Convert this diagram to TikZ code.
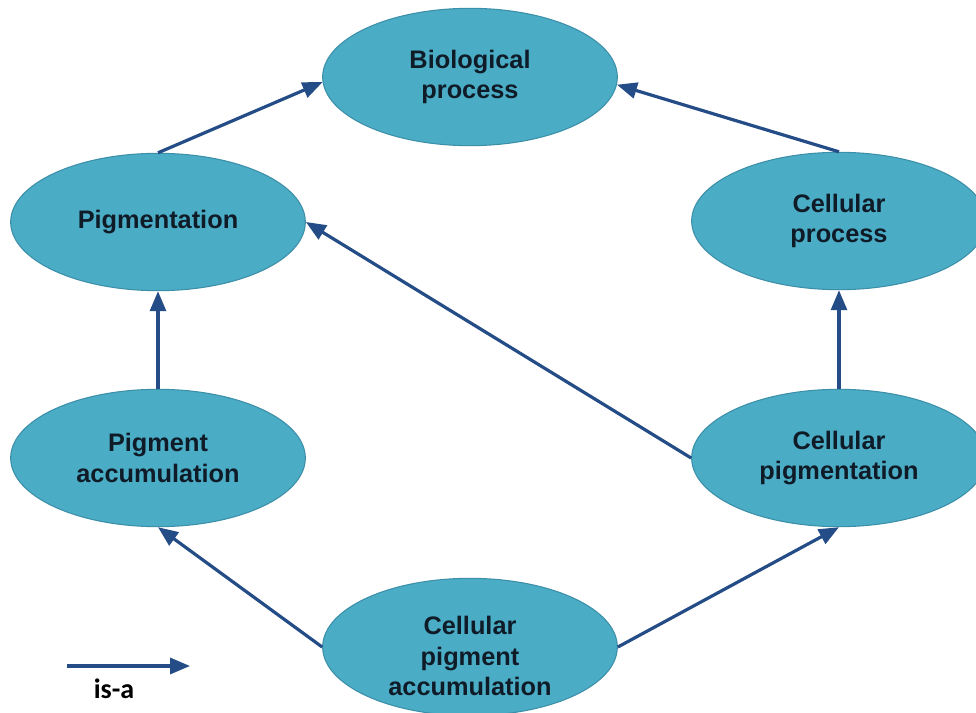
\documentclass[tikz,border=0pt]{standalone}
\usepackage{fontspec}
\setmainfont{Liberation Sans}
\newfontfamily\legendfont{Carlito}
\usetikzlibrary{shapes.geometric,arrows.meta}
\definecolor{termfill}{HTML}{4BACC6}
\definecolor{termedge}{HTML}{3C8FA8}
\definecolor{termtext}{HTML}{0F1C28}
\definecolor{isacol}{HTML}{244C86}
\tikzset{
  termfont/.style={align=center, text=termtext,
    font=\fontsize{19}{23}\selectfont\bfseries},
  term/.style={ellipse, draw=termedge, line width=0.8pt, fill=termfill,
    minimum width=221pt, minimum height=103pt, inner sep=0pt, termfont},
  isa/.style={draw=isacol, line width=2.4pt,
    -{Triangle[length=15pt,width=12pt]}}
}
\begin{document}
\begin{tikzpicture}[x=0.75pt,y=-0.75pt]
  \useasboundingbox (0,0) rectangle (976,713);
  % ontology terms
  \node[term] (bio)   at (470,77)  {Biological\\process};
  \node[term] (pig)   at (158,222) {Pigmentation};
  \node[term] (cproc) at (839,221) {Cellular\\process};
  \node[term] (pacc)  at (158,458) {Pigment\\accumulation};
  \node[term] (cpig)  at (839,458) {Cellular\\pigmentation};
  \node[term] (cpa)   at (470,647) {};
  \node[termfont] (cpatext) at (470,656) {Cellular\\pigment\\accumulation};
  % is-a relations
  \draw[isa] (pig.north)  -- (bio.182);
  \draw[isa] (cproc.north) -- (bio.357);
  \draw[isa] (cpig.west)  -- (pig.east);
  \draw[isa] (cpig.north) -- (cproc.south);
  \draw[isa] (pacc.north) -- (pig.south);
  \draw[isa] (cpa.west)   -- (pacc.south);
  \draw[isa] (cpa.east)   -- (cpig.south);
  % legend
  \coordinate (legA) at (67,666);
  \coordinate (legB) at (190,666);
  \draw[isa] (legA) -- (legB);
  \node[font=\legendfont\fontsize{21}{25}\selectfont\bfseries, text=black]
    (leglabel) at (114,689) {is-a};
\end{tikzpicture}
\end{document}
